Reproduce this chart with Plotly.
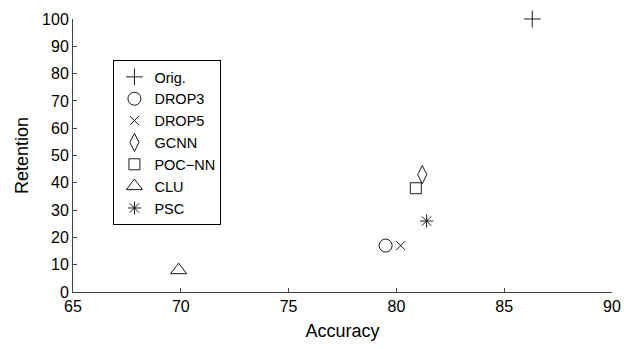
import plotly.graph_objects as go

methods = ["Orig.", "DROP3", "DROP5", "GCNN", "POC\u2212NN", "CLU", "PSC"]
accuracy = [86.3, 79.5, 80.2, 81.2, 80.9, 69.9, 81.4]
retention = [100, 17, 17, 43, 38, 8, 26]
symbols = ["cross-thin-open", "circle-open", "x-thin-open", "diamond-tall-open",
           "square-open", "triangle-up-open", "asterisk-open"]
sizes = [12, 13, 9, 13, 11, 14, 11]

x_ticks = [65, 70, 75, 80, 85, 90]
y_ticks = [0, 10, 20, 30, 40, 50, 60, 70, 80, 90, 100]

fig = go.Figure()
for i, m in enumerate(methods):
    fig.add_trace(go.Scatter(
        x=[accuracy[i]], y=[retention[i]], mode="markers", name=m,
        legendgroup=m,
        marker=dict(symbol=symbols[i], size=sizes[i], color="black",
                    line=dict(color="#222", width=0.9)),
        cliponaxis=False,
    ))

font = "Liberation Sans, Arial, Helvetica, sans-serif"
fig.update_layout(
    width=624, height=349,
    margin=dict(l=73, r=12, t=19, b=57, autoexpand=False),
    plot_bgcolor="white", paper_bgcolor="white",
    font=dict(family=font, size=15, color="black"),
    showlegend=True,
    hovermode=False,
    legend=dict(x=0.075, y=0.85, xanchor="left", yanchor="top",
                bordercolor="black", borderwidth=1, bgcolor="white",
                font=dict(size=14.5), tracegroupgap=0, itemsizing="trace",
                itemwidth=30),
    xaxis=dict(range=[65, 90], tickvals=x_ticks, ticks="inside", ticklen=4,
               showline=True, linecolor="#444", linewidth=1, showgrid=False,
               zeroline=False, mirror=False, automargin=False,
               title=dict(text="Accuracy", font=dict(size=18), standoff=10),
               tickfont=dict(size=16)),
    yaxis=dict(range=[0, 100], tickvals=y_ticks, ticks="inside", ticklen=4,
               showline=True, linecolor="#444", linewidth=1, showgrid=False,
               zeroline=False, mirror=False, automargin=False,
               title=dict(text="Retention", font=dict(size=18), standoff=8),
               tickfont=dict(size=16)),
)

fig.write_html("out.html",
               config={"displayModeBar": False},
               post_script="document.body.style.margin='0px';"
                           "document.body.style.overflow='hidden';")
